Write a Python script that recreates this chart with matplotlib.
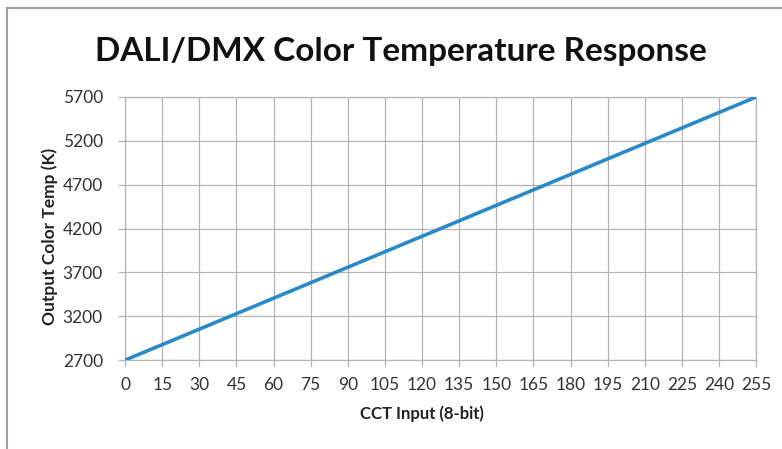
import matplotlib
matplotlib.use("Agg")
import matplotlib.pyplot as plt
from matplotlib.lines import Line2D

cct_input = [0, 255]
output_temp = [2700, 5700]
x_ticks = list(range(0, 256, 15))
y_ticks = [2700, 3200, 3700, 4200, 4700, 5200, 5700]

plt.rcParams['font.family'] = ['Lato', 'DejaVu Sans']

fig = plt.figure(figsize=(7.82, 4.49), dpi=100)
ax = fig.add_axes([0.160, 0.198, 0.807, 0.586])

grid_c = '#b4b4b4'
ax.plot(cct_input, output_temp, color='#2a8ac8', linewidth=2.6, solid_capstyle='round', zorder=3)
ax.set_xlim(0, 255)
ax.set_ylim(2700, 5700)
ax.set_xticks(x_ticks)
ax.set_yticks(y_ticks)
ax.grid(True, color=grid_c, linewidth=0.9)
for s in ax.spines.values():
    s.set_color(grid_c)
    s.set_linewidth(0.9)
ax.tick_params(axis='both', colors=grid_c, labelcolor='#333333', labelsize=12.5, length=5, width=0.9)
ax.tick_params(axis='x', pad=7)
ax.tick_params(axis='y', pad=11)

ax.set_xlabel('CCT Input (8-bit)', fontsize=12, fontweight='bold', color='#222222')
ax.xaxis.set_label_coords(0.47, -0.172)
ax.set_ylabel('Output Color Temp (K)', fontsize=12.5, fontweight='bold', color='#222222')
ax.yaxis.set_label_coords(-0.106, 0.47)
fig.text(0.512, 0.885, 'DALI/DMX Color Temperature Response', ha='center', va='center',
         fontsize=24, fontweight='bold', color='#111111')

# figure frame (left and top edges)
fig.add_artist(Line2D([0.009, 0.009], [0.0, 0.982], transform=fig.transFigure, color='#a0a0a0', linewidth=1.5))
fig.add_artist(Line2D([0.009, 1.0], [0.982, 0.982], transform=fig.transFigure, color='#a0a0a0', linewidth=1.5))

fig.savefig('out.png', dpi=100)
